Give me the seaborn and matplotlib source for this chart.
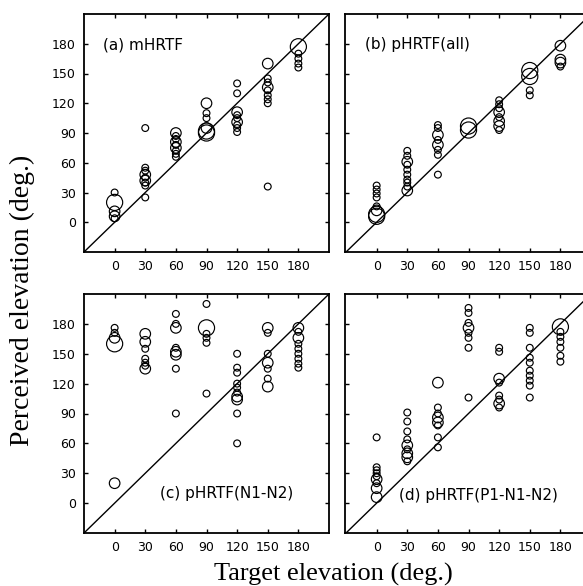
import matplotlib
matplotlib.use("Agg")
import matplotlib.pyplot as plt
import seaborn as sns
import pandas as pd

# ---------------- data ----------------
ticks = [0, 30, 60, 90, 120, 150, 180]
size_px = {1: 24, 2: 58, 3: 135}

a_target = [0]*5 + [30]*9 + [60]*9 + [90]*6 + [120]*9 + [150]*9 + [180]*5
a_perceived = [30, 20, 11, 6, 4,
               95, 55, 52, 48, 45, 42, 40, 37, 25,
               90, 87, 84, 81, 78, 75, 72, 69, 66,
               120, 110, 105, 95, 92, 90,
               140, 130, 111, 108, 105, 101, 98, 95, 91,
               160, 145, 141, 136, 133, 128, 124, 120, 36,
               177, 170, 165, 160, 156]
a_size = [1, 3, 2, 2, 1,
          1, 1, 1, 2, 1, 2, 1, 1, 1,
          2, 1, 1, 2, 1, 2, 1, 1, 1,
          2, 1, 1, 2, 3, 3,
          1, 1, 2, 1, 1, 2, 1, 1, 1,
          2, 1, 1, 2, 1, 1, 1, 1, 1,
          3, 1, 1, 1, 1]

b_target = [0]*8 + [30]*10 + [60]*8 + [90]*2 + [120]*8 + [150]*4 + [180]*4
b_perceived = [37, 33, 29, 25, 16, 12, 8, 6,
               72, 67, 61, 58, 53, 48, 43, 40, 36, 32,
               98, 95, 88, 83, 78, 73, 68, 48,
               97, 93,
               123, 119, 115, 111, 106, 102, 97, 93,
               153, 147, 133, 128,
               178, 164, 161, 157]
b_size = [1, 1, 1, 1, 1, 2, 3, 3,
          1, 1, 2, 1, 1, 1, 1, 1, 1, 2,
          1, 1, 2, 1, 2, 1, 1, 1,
          3, 3,
          1, 1, 1, 2, 1, 2, 2, 1,
          3, 3, 1, 1,
          2, 2, 2, 1]

c_target = [0]*5 + [30]*7 + [60]*8 + [90]*6 + [120]*10 + [150]*7 + [180]*9
c_perceived = [176, 171, 166, 160, 20,
               170, 162, 155, 145, 141, 138, 135,
               190, 180, 176, 156, 152, 149, 135, 90,
               200, 176, 170, 166, 161, 110,
               150, 136, 131, 120, 116, 111, 107, 104, 90, 60,
               176, 171, 150, 141, 135, 125, 117,
               176, 172, 166, 160, 155, 150, 145, 140, 136]
c_size = [1, 1, 2, 3, 2,
          2, 2, 1, 1, 1, 1, 2,
          1, 1, 2, 1, 2, 2, 1, 1,
          1, 3, 1, 1, 1, 1,
          1, 1, 1, 1, 1, 1, 2, 2, 1, 1,
          2, 1, 1, 2, 1, 1, 2,
          2, 1, 2, 1, 1, 1, 1, 1, 1]

d_target = [0]*9 + [30]*9 + [60]*8 + [90]*8 + [120]*8 + [150]*10 + [180]*7
d_perceived = [66, 36, 33, 30, 27, 24, 20, 15, 6,
               91, 82, 72, 64, 58, 54, 50, 46, 42,
               121, 96, 90, 86, 81, 78, 66, 56,
               196, 191, 181, 176, 171, 166, 156, 106,
               156, 152, 125, 121, 108, 104, 100, 96,
               176, 171, 156, 146, 141, 133, 128, 123, 118, 106,
               177, 172, 167, 162, 156, 148, 142]
d_size = [1, 1, 1, 1, 1, 2, 1, 2, 2,
          1, 1, 1, 1, 2, 1, 2, 2, 1,
          2, 1, 1, 2, 2, 1, 1, 1,
          1, 1, 1, 2, 1, 1, 1, 1,
          1, 1, 2, 1, 1, 1, 2, 1,
          1, 1, 1, 1, 1, 1, 1, 1, 1, 1,
          3, 1, 1, 1, 1, 1, 1]

panel_titles = ["(a) mHRTF", "(b) pHRTF(all)", "(c) pHRTF(N1-N2)", "(d) pHRTF(P1-N1-N2)"]

# ---------------- figure ----------------
sns.set_style("ticks")
plt.rcParams["font.family"] = ["DejaVu Sans"]
plt.rcParams["text.color"] = "black"
plt.rcParams["axes.edgecolor"] = "black"
plt.rcParams["xtick.color"] = "black"
plt.rcParams["ytick.color"] = "black"
plt.rcParams["xtick.labelcolor"] = "black"
plt.rcParams["ytick.labelcolor"] = "black"

W, H = 583, 586
fig = plt.figure(figsize=(W / 100, H / 100), dpi=100)

def frac(x0, ytop, w, h):
    return [x0 / W, (H - ytop - h) / H, w / W, h / H]

rects = [frac(84, 14, 245, 238), frac(345, 14, 245, 238),
         frac(84, 294, 245, 239), frac(345, 294, 245, 239)]
xlims = [(-30, 210), (-31, 209), (-30, 210), (-31, 209)]
title_pos = [(-11, 179, "left"), (-11, 179, "left"), (44, 10, "left"), (22, 8, "left")]

datasets = [(a_target, a_perceived, a_size), (b_target, b_perceived, b_size),
            (c_target, c_perceived, c_size), (d_target, d_perceived, d_size)]

for i, (rect, (tx, py, sz)) in enumerate(zip(rects, datasets)):
    ax = fig.add_axes(rect)
    df = pd.DataFrame({"target": tx, "perceived": py, "size": sz})
    ax.plot([-40, 220], [-40, 220], color="black", lw=1.0, zorder=1)
    sns.scatterplot(data=df, x="target", y="perceived", size="size",
                    sizes=size_px, legend=False, ax=ax,
                    facecolors="none", edgecolor="black", linewidth=0.85, zorder=2)
    ax.set_xlim(*xlims[i])
    ax.set_ylim(-30, 210)
    ax.set_xticks(ticks)
    ax.set_yticks(ticks)
    ax.set_xticklabels([str(t) for t in ticks], fontsize=9)
    if i in (0, 2):
        ax.set_yticklabels([str(t) for t in ticks], fontsize=9)
    else:
        ax.set_yticklabels([])
    ax.tick_params(direction="in", length=3, width=1, top=True, right=True, pad=6)
    ax.set_xlabel("")
    ax.set_ylabel("")
    for s in ax.spines.values():
        s.set_linewidth(1.3)
        s.set_color("black")
    xt, yt, ha = title_pos[i]
    ax.text(xt, yt, panel_titles[i], fontsize=11, ha=ha, va="center", color="black")

fig.text(333 / W, (H - 574) / H, "Target elevation (deg.)", ha="center", va="center",
         fontsize=19, family=["Liberation Serif"], color="black")
fig.text(22 / W, (H - 300) / H, "Perceived elevation (deg.)", ha="center", va="center",
         rotation=90, fontsize=20, family=["Liberation Serif"], color="black")

fig.savefig("out.png", dpi=100)
